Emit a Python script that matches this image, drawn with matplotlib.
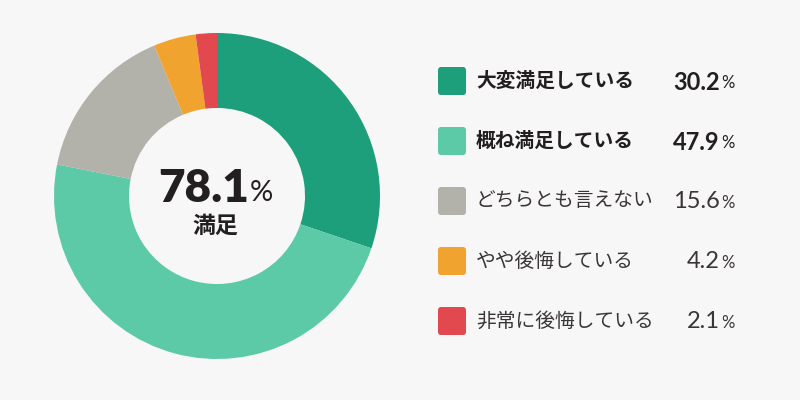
import matplotlib.pyplot as plt
from matplotlib.patches import FancyBboxPatch

plt.rcParams['font.family'] = ['Noto Sans CJK JP', 'DejaVu Sans']

labels = ["大変満足している", "概ね満足している", "どちらとも言えない", "やや後悔している", "非常に後悔している"]
values = [30.2, 47.9, 15.6, 4.2, 2.1]
colors = ["#1c9f7a", "#5ccaa7", "#b2b1aa", "#f0a32e", "#e2494f"]
bold_rows = [True, True, False, False, False]
center_value = "78.1"
center_label = "満足"

bg = "#f7f7f7"
fig = plt.figure(figsize=(8, 4), dpi=100, facecolor=bg)

# donut
cx, cy, r = 217, 196, 163
ax = fig.add_axes([(cx - r) / 800, (400 - cy - r) / 400, 2 * r / 800, 2 * r / 400])
ax.pie(values, colors=colors, startangle=90, counterclock=False,
       wedgeprops=dict(width=0.46, linewidth=0), radius=1)
ax.set_xlim(-1, 1)
ax.set_ylim(-1, 1)
ax.set_aspect("equal")
ax.axis("off")

# overlay in pixel coords
ov = fig.add_axes([0, 0, 1, 1], facecolor="none")
ov.set_xlim(0, 800)
ov.set_ylim(400, 0)
ov.axis("off")

dark = "#231f20"
grey = "#3a3536"
num_font = ["Lato", "DejaVu Sans"]
ov.text(249, 189, center_value, ha="right", va="center", fontsize=33,
        fontweight="heavy", color=dark, family=num_font)
ov.text(250, 193, "%", ha="left", va="center", fontsize=21, color=dark,
        family=num_font)
ov.text(215, 226, center_label, ha="center", va="center", fontsize=16.5,
        fontweight="bold", color=dark)

row_y = [81, 141, 201, 261, 321]
for lab, val, col, b, y in zip(labels, values, colors, bold_rows, row_y):
    ov.add_patch(FancyBboxPatch((438, y - 14), 28, 28,
                                boxstyle="round,pad=0,rounding_size=3",
                                facecolor=col, edgecolor="none"))
    w = "bold" if b else "normal"
    c = dark if b else grey
    ov.text(476, y, lab, ha="left", va="center", fontsize=14.2,
            fontweight=w, color=c)
    ov.text(720, y + 1, f"{val:.1f}", ha="right", va="center", fontsize=17,
            fontweight=w, color=c, family=num_font)
    ov.text(721, y + 2, "%", ha="left", va="center", fontsize=12,
            color=c, family=num_font)

fig.savefig("out.png", dpi=100, facecolor=bg)
